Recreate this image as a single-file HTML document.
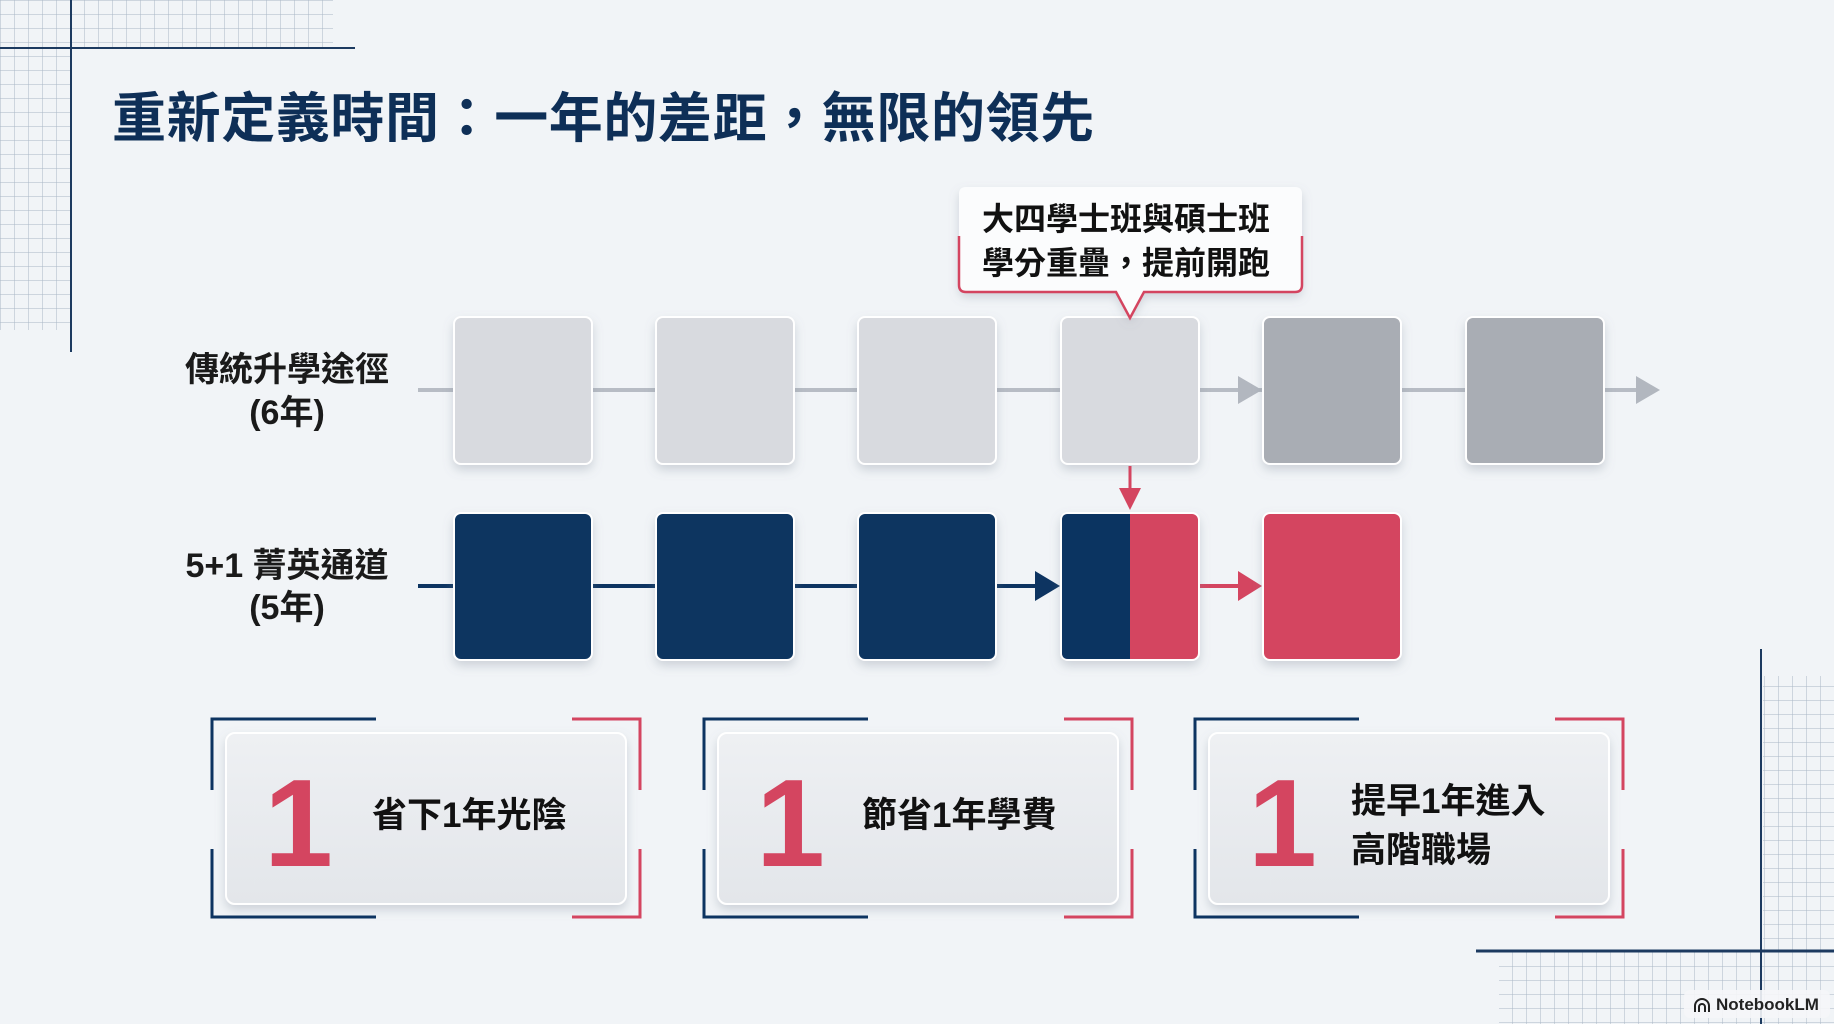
<!DOCTYPE html>
<html><head><meta charset="utf-8"><style>
html,body{margin:0;padding:0;background:#f1f4f7;}
svg{display:block}
text{font-family:"Liberation Sans","Noto Sans CJK TC",sans-serif;font-weight:bold;}
</style></head><body>
<svg width="1834" height="1024" viewBox="0 0 1834 1024" xmlns="http://www.w3.org/2000/svg">
<defs>
<pattern id="g" width="14" height="14" patternUnits="userSpaceOnUse"><path d="M14 0H0V14" fill="none" stroke="#a9b6c6" stroke-width="1"/></pattern>
<filter id="sh" x="-20%" y="-20%" width="140%" height="150%"><feDropShadow dx="0" dy="5" stdDeviation="5" flood-color="#7a8594" flood-opacity="0.3"/></filter>
<linearGradient id="cg" x1="0" y1="0" x2="0" y2="1"><stop offset="0" stop-color="#eef0f3"/><stop offset="1" stop-color="#e3e6ea"/></linearGradient>
</defs>
<rect width="1834" height="1024" fill="#f1f4f7"/>
<rect x="0" y="0" width="333" height="48" fill="url(#g)"/>
<rect x="0" y="48" width="71" height="282" fill="url(#g)"/>
<line x1="71" y1="0" x2="71" y2="352" stroke="#1c3a60" stroke-width="2"/>
<line x1="0" y1="48" x2="355" y2="48" stroke="#1c3a60" stroke-width="2"/>
<rect x="1763" y="676" width="71" height="275" fill="url(#g)"/>
<rect x="1499" y="951" width="335" height="73" fill="url(#g)"/>
<line x1="1761" y1="649" x2="1761" y2="1024" stroke="#1c3a60" stroke-width="2"/>
<line x1="1476" y1="951" x2="1834" y2="951" stroke="#1c3a60" stroke-width="3"/>
<text x="112" y="137" font-size="54" fill="#0e2f57" letter-spacing="0.6">重新定義時間：一年的差距，無限的領先</text>
<text x="287" y="381" font-size="34" fill="#1a1a1a" text-anchor="middle">傳統升學途徑</text>
<text x="287" y="424" font-size="34" fill="#1a1a1a" text-anchor="middle">(6年)</text>
<text x="287" y="577" font-size="34" fill="#1a1a1a" text-anchor="middle">5+1 菁英通道</text>
<text x="287" y="619" font-size="34" fill="#1a1a1a" text-anchor="middle">(5年)</text>
<line x1="418" y1="390" x2="1645" y2="390" stroke="#b7bcc4" stroke-width="4"/>
<polygon points="1238,376 1262,390 1238,404" fill="#b2b7bf"/>
<polygon points="1636,376 1660,390 1636,404" fill="#b2b7bf"/>
<g filter="url(#sh)" stroke="#fff" stroke-width="2">
<rect x="454" y="317" width="138" height="147" rx="7" fill="#d8dadf"/>
<rect x="656" y="317" width="138" height="147" rx="7" fill="#d8dadf"/>
<rect x="858" y="317" width="138" height="147" rx="7" fill="#d8dadf"/>
<rect x="1061" y="317" width="138" height="147" rx="7" fill="#d8dadf"/>
<rect x="1263" y="317" width="138" height="147" rx="7" fill="#a9adb4"/>
<rect x="1466" y="317" width="138" height="147" rx="7" fill="#a9adb4"/>
</g>
<line x1="418" y1="586" x2="1040" y2="586" stroke="#0d3461" stroke-width="4"/>
<polygon points="1035,571 1060,586 1035,601" fill="#0d3461"/>
<line x1="1199" y1="586" x2="1240" y2="586" stroke="#d44560" stroke-width="4"/>
<polygon points="1238,571 1262,586 1238,601" fill="#d44560"/>
<g filter="url(#sh)" stroke="#fff" stroke-width="2">
<rect x="454" y="513" width="138" height="147" rx="7" fill="#0b3461"/>
<rect x="656" y="513" width="138" height="147" rx="7" fill="#0b3461"/>
<rect x="858" y="513" width="138" height="147" rx="7" fill="#0b3461"/>
<rect x="1061" y="513" width="138" height="147" rx="7" fill="#d44560"/>
<rect x="1263" y="513" width="138" height="147" rx="7" fill="#d44560"/>
</g>
<path d="M1068 514 H1130 V659 H1068 Q1062 659 1062 653 V520 Q1062 514 1068 514Z" fill="#0b3461"/>
<line x1="1130" y1="466" x2="1130" y2="492" stroke="#d44560" stroke-width="3"/>
<polygon points="1119,488 1141,488 1130,510" fill="#d44560"/>
<path d="M966 187 H1295 Q1302 187 1302 194 V285 Q1302 292 1295 292 H1144 L1130 318 L1116 292 H966 Q959 292 959 285 V194 Q959 187 966 187Z" fill="#fbfcfd" filter="url(#sh)"/>
<path d="M959 236 V285 Q959 292 966 292 H1116 L1130 318 L1144 292 H1295 Q1302 292 1302 285 V236" fill="none" stroke="#d44560" stroke-width="2.5"/>
<text x="982" y="230" font-size="32" fill="#111">大四學士班與碩士班</text>
<text x="982" y="274" font-size="32" fill="#111">學分重疊，提前開跑</text>
<g id="c1">
<rect x="226" y="733" width="400" height="171" rx="9" fill="url(#cg)" stroke="#fff" stroke-width="2" filter="url(#sh)"/>
<path d="M212 790 V719 H376 M212 849 V917 H376" fill="none" stroke="#0d3461" stroke-width="3"/>
<path d="M572 719 H640 V790 M640 849 V917 H572" fill="none" stroke="#d44560" stroke-width="3"/>
</g>
<use href="#c1" x="492"/>
<use href="#c1" x="983"/>
<text x="264" y="866" font-size="124" fill="#d44560">1</text>
<text x="756" y="866" font-size="124" fill="#d44560">1</text>
<text x="1248" y="866" font-size="124" fill="#d44560">1</text>
<text x="372" y="827" font-size="35" fill="#111">省下1年光陰</text>
<text x="862" y="827" font-size="35" fill="#111">節省1年學費</text>
<text x="1351" y="813" font-size="35" fill="#111">提早1年進入</text>
<text x="1351" y="862" font-size="35" fill="#111">高階職場</text>
<rect x="1684" y="990" width="146" height="28" rx="6" fill="#f5f6f8" opacity="0.9"/>
<text x="1716" y="1010" font-size="17" fill="#222">NotebookLM</text>
<path d="M1695 1012 V1006 A7 7 0 0 1 1709 1006 V1012 M1699 1012 V1007 A3 3 0 0 1 1705 1007 V1012" fill="none" stroke="#222" stroke-width="2"/>
</svg>
</body></html>
